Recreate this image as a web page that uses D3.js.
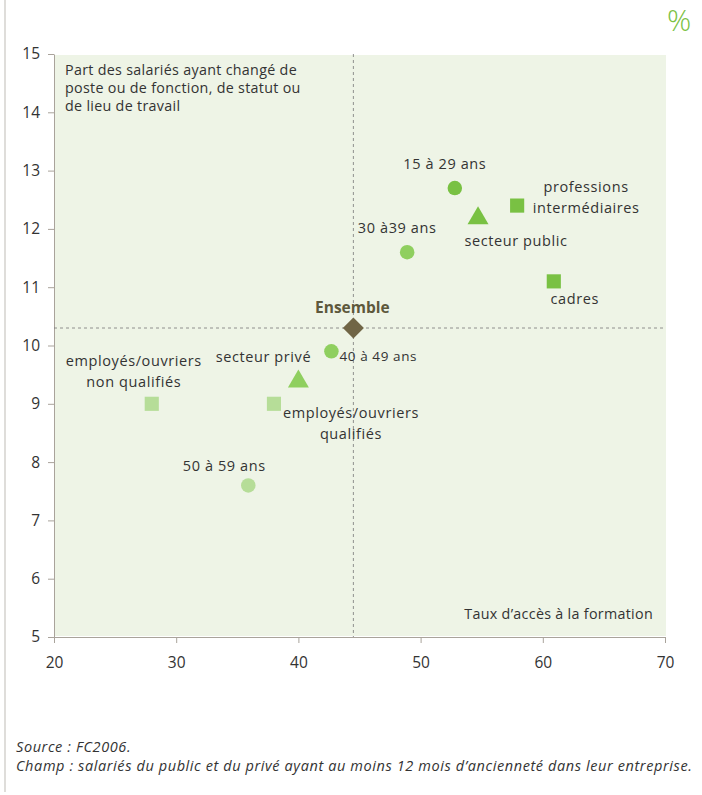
<!DOCTYPE html>
<html>
<head>
<meta charset="utf-8">
<script src="https://cdn.jsdelivr.net/npm/d3@7"></script>
<style>
  html, body { margin: 0; padding: 0; background: #fff; }
  svg { display: block; font-family: "Open Sans", "Lato", sans-serif; }
</style>
</head>
<body>
<svg id="chart" width="702" height="795"></svg>
<script>
// Groups of employees: access to training (x) vs. job mobility (y), in %
const names  = ["15 à 29 ans", "30 à39 ans", "40 à 49 ans", "50 à 59 ans",
                "secteur public", "secteur privé",
                "professions intermédiaires", "cadres",
                "employés/ouvriers qualifiés", "employés/ouvriers non qualifiés",
                "Ensemble"];
const shapes = ["circle", "circle", "circle", "circle",
                "triangle", "triangle",
                "square", "square", "square", "square",
                "diamond"];
const accesFormation = [52.8, 48.9, 42.7, 35.9, 54.7, 40.0, 57.9, 60.9, 38.0, 28.0, 44.5];
const changementPoste = [12.7, 11.6, 9.9, 7.6, 12.2, 9.4, 12.4, 11.1, 9.0, 9.0, 10.3];
const xTicks = [20, 30, 40, 50, 60, 70];
const yTicks = [5, 6, 7, 8, 9, 10, 11, 12, 13, 14, 15];

// Marker fills
const fills = ["#79c143", "#8fcf5f", "#8fcf5f", "#b6dd98",
               "#79c143", "#8fcf5f",
               "#79c143", "#79c143", "#b6dd98", "#b6dd98",
               "#706546"];

// Label placement relative to each marker: lines, dx, dy of first baseline, anchor
const labelLayout = [
  { lines: ["15 à 29 ans"], dx: -10, dy: -19, anchor: "middle" },
  { lines: ["30 à39 ans"], dx: -10, dy: -19, anchor: "middle" },
  { lines: ["40 à 49 ans"], dx: 8, dy: 10, anchor: "start", size: 13.5 },
  { lines: ["50 à 59 ans"], dx: -24, dy: -14, anchor: "middle" },
  { lines: ["secteur public"], dx: 38, dy: 29, anchor: "middle" },
  { lines: ["secteur privé"], dx: -35, dy: -18, anchor: "middle" },
  { lines: ["professions", "intermédiaires"], dx: 69, dy: -14, anchor: "middle" },
  { lines: ["cadres"], dx: 21, dy: 23, anchor: "middle" },
  { lines: ["employés/ouvriers", "qualifiés"], dx: 77, dy: 14, anchor: "middle" },
  { lines: ["employés/ouvriers", "non qualifiés"], dx: -18, dy: -38, anchor: "middle" },
  { lines: ["Ensemble"], dx: -1, dy: -15, anchor: "middle", bold: true }
];

const svg = d3.select("#chart");
const margin = { left: 54, right: 37, top: 54, bottom: 158 };
const W = 702, H = 795;
const x = d3.scaleLinear().domain([20, 70]).range([margin.left, W - margin.right]);
const y = d3.scaleLinear().domain([5, 15]).range([H - margin.bottom, margin.top]);

// Left frame rule
svg.append("line").attr("x1", 5).attr("x2", 5).attr("y1", 0).attr("y2", 792)
  .attr("stroke", "#c9c6c2").attr("stroke-width", 1.2);

// Unit sign
svg.append("text").attr("x", 679).attr("y", 31).attr("text-anchor", "middle")
  .attr("font-size", 30).attr("font-weight", 300).attr("fill", "#7ac143").text("%");

// Plot background
svg.append("rect")
  .attr("x", x(20) + 1).attr("y", y(15) + 1)
  .attr("width", x(70) - x(20)).attr("height", y(5) - y(15) - 2)
  .attr("fill", "#eef4e6");

// Axes
const xAxis = svg.append("g").attr("transform", `translate(0,${y(5)})`)
  .call(d3.axisBottom(x).tickValues(xTicks).tickSize(6).tickSizeOuter(0));
const yAxis = svg.append("g").attr("transform", `translate(${x(20)},0)`)
  .call(d3.axisLeft(y).tickValues(yTicks).tickSize(6).tickSizeOuter(0));
[xAxis, yAxis].forEach(g => {
  g.select(".domain").attr("stroke", "#a9a39b").attr("stroke-width", 1);
  g.selectAll(".tick line").attr("stroke", "#a9a39b");
  g.selectAll(".tick text").attr("fill", "#333").attr("font-size", 15.5)
    .attr("font-family", "'Open Sans', sans-serif");
});
xAxis.selectAll(".tick text").attr("dy", "1.4em");
yAxis.selectAll(".tick text").attr("x", -14);

// Reference lines through the overall average
const ens = names.indexOf("Ensemble");
svg.append("line")
  .attr("x1", x(20)).attr("x2", x(70))
  .attr("y1", y(changementPoste[ens])).attr("y2", y(changementPoste[ens]))
  .attr("stroke", "#777").attr("stroke-dasharray", "3,3").attr("stroke-width", 0.8);
svg.append("line")
  .attr("x1", x(accesFormation[ens])).attr("x2", x(accesFormation[ens]))
  .attr("y1", y(15)).attr("y2", y(5))
  .attr("stroke", "#777").attr("stroke-dasharray", "3,3").attr("stroke-width", 0.8);

// Axis titles
const yTitle = ["Part des salariés ayant changé de", "poste ou de fonction, de statut ou", "de lieu de travail"];
svg.append("text").attr("x", 65).attr("y", 75).attr("font-size", 14.3).attr("fill", "#333")
  .attr("letter-spacing", 0.3)
  .selectAll("tspan").data(yTitle).join("tspan")
  .attr("x", 65).attr("dy", (d, i) => i ? 18 : 0).text(d => d);
svg.append("text").attr("x", 653).attr("y", 619).attr("text-anchor", "end")
  .attr("font-size", 14.3).attr("letter-spacing", 0.3).attr("fill", "#333")
  .text("Taux d’accès à la formation");

// Markers
const symbolTypes = { circle: d3.symbolCircle, square: d3.symbolSquare, triangle: d3.symbolTriangle, diamond: d3.symbolSquare };
const symbolSizes = { circle: 165, square: 200, triangle: 190, diamond: 220 };
const pts = names.map((n, i) => ({ n, i, s: shapes[i], x: accesFormation[i], y: changementPoste[i] }));
svg.append("g").selectAll("path").data(pts).join("path")
  .attr("transform", d => {
    let t = `translate(${x(d.x)},${y(d.y)})`;
    if (d.s === "triangle") t += " translate(0,1)";
    if (d.s === "diamond") t += " rotate(45)";
    return t;
  })
  .attr("d", d => d3.symbol().type(symbolTypes[d.s]).size(symbolSizes[d.s])())
  .attr("fill", d => fills[d.i]);

// Point labels
const lab = svg.append("g");
pts.forEach(d => {
  const L = labelLayout[d.i];
  const t = lab.append("text")
    .attr("x", x(d.x) + L.dx).attr("y", y(d.y) + L.dy)
    .attr("text-anchor", L.anchor)
    .attr("font-size", L.bold ? 15.5 : (L.size || 14.5))
    .attr("font-weight", L.bold ? 700 : 400)
    .attr("fill", L.bold ? "#5d583c" : "#333")
    .attr("letter-spacing", L.bold ? 0 : 0.6);
  t.selectAll("tspan").data(L.lines).join("tspan")
    .attr("x", x(d.x) + L.dx).attr("dy", (s, k) => k ? 21 : 0).text(s => s);
});

// Notes
const notes = ["Source : FC2006.", "Champ : salariés du public et du privé ayant au moins 12 mois d’ancienneté dans leur entreprise."];
svg.append("g").selectAll("text").data(notes).join("text")
  .attr("x", 16).attr("y", (d, i) => 752 + i * 19)
  .attr("font-size", 14.5).attr("letter-spacing", 0.6)
  .attr("font-style", "italic").attr("fill", "#333").text(d => d);
</script>
</body>
</html>
